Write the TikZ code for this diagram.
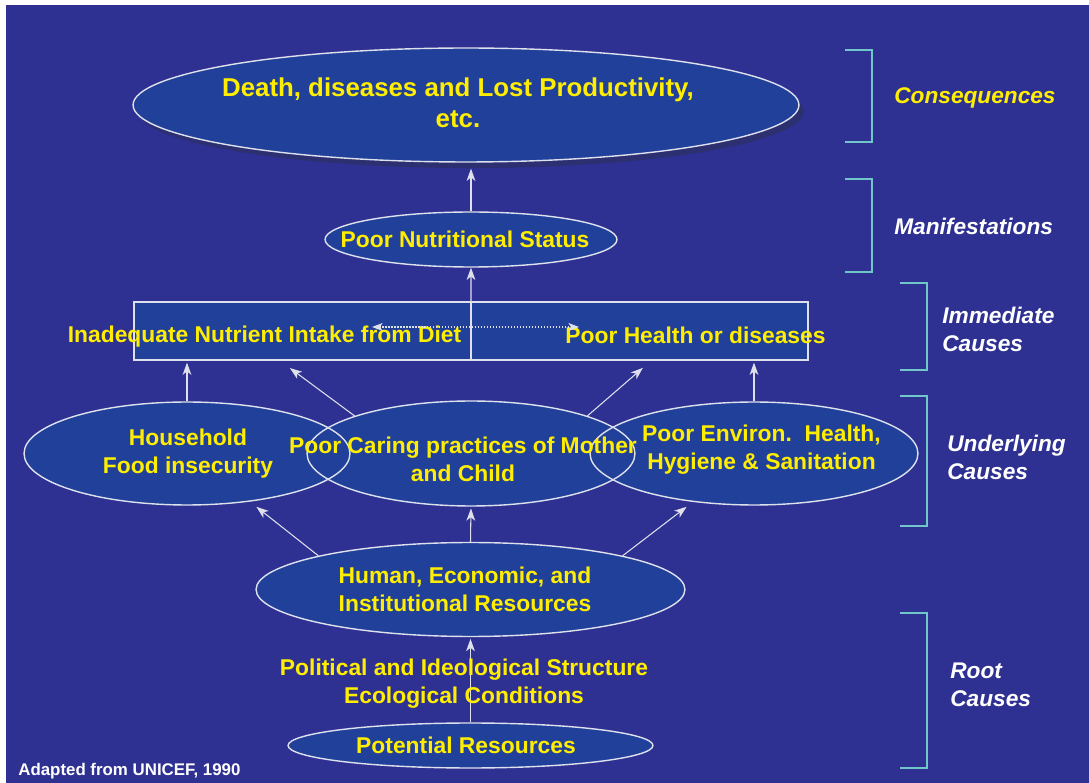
\documentclass[tikz,border=0pt]{standalone}
\usepackage{fontspec}
\setmainfont{Liberation Sans}
\usetikzlibrary{arrows.meta, positioning, shapes.geometric, shadows, calc}

\definecolor{bgblue}{RGB}{46,49,146}
\definecolor{ovalblue}{RGB}{33,64,154}
\definecolor{shadowblue}{RGB}{44,47,112}
\definecolor{edgegray}{RGB}{222,224,236}
\definecolor{txtyellow}{RGB}{255,238,0}
\definecolor{bracketcyan}{RGB}{112,198,200}

\pgfdeclarelayer{fills}
\pgfsetlayers{fills,main}

\begin{document}
\begin{tikzpicture}[
    x=0.02cm, y=-0.02cm,
    oval/.style={ellipse, draw=edgegray, line width=0.8pt, fill=ovalblue},
    overlap/.style={ellipse, draw=edgegray, line width=0.8pt},
    halfbox/.style={rectangle, draw=edgegray, line width=0.8pt, fill=ovalblue, minimum width=6.74cm, minimum height=1.16cm, outer sep=0pt},
    lbl/.style={text=txtyellow, font=\bfseries\fontsize{13}{15.9}\selectfont, align=center, inner sep=0pt},
    stage/.style={font=\bfseries\itshape\fontsize{12.9}{15.9}\selectfont, text=white, align=left, anchor=west, inner sep=0pt},
    arrow/.style={-{Stealth[length=7pt, width=5pt, inset=2pt]}, line width=0.6pt, draw=edgegray},
    dotarrow/.style={{Stealth[length=6pt, width=4.5pt, inset=1.5pt]}-{Stealth[length=6pt, width=4.5pt, inset=1.5pt]}, densely dotted, line width=0.7pt, draw=edgegray},
    bracket/.style={draw=bracketcyan, line width=0.8pt},
]

% Page and background
\useasboundingbox (0,0) rectangle (1089,783);
\begin{pgfonlayer}{fills}
\fill[white] (0,0) rectangle (1089,783);
\fill[bgblue] (6,5) rectangle (1089,783);
\end{pgfonlayer}

% Consequences and manifestations
\node[oval, minimum width=13.32cm, minimum height=2.28cm,
      drop shadow={shadow xshift=0.1cm, shadow yshift=-0.12cm, fill=shadowblue, opacity=1}] (death) at (466,105) {};
\node[oval, minimum width=5.84cm, minimum height=1.10cm] (nutr) at (471,239.5) {};

% Immediate causes
\node[halfbox] (intakebox) at (302.5,331) {};
\node[halfbox, right=0pt of intakebox] (healthbox) {};

% Underlying causes (outlines stay visible where they overlap)
\node[overlap, minimum width=6.52cm, minimum height=2.06cm] (hh)   at (187,453.5) {};
\node[overlap, minimum width=6.56cm, minimum height=2.10cm] (care) at (471,453.5) {};
\node[overlap, minimum width=6.56cm, minimum height=2.06cm] (env)  at (754,453.5) {};
\begin{pgfonlayer}{fills}
\foreach \o in {hh,care,env}
  \fill[ovalblue] let \p1=(\o.center), \p2=(\o.east), \p3=(\o.north) in
    (\p1) ellipse [x radius=\x2-\x1, y radius=\y3-\y1];
\end{pgfonlayer}

% Root causes
\node[oval, minimum width=8.58cm, minimum height=1.88cm] (hum) at (470.5,589.5) {};
\node[oval, minimum width=7.30cm, minimum height=0.90cm] (pot) at (470.5,745.5) {};

% Arrows
\draw[arrow, shorten >=3.4pt] (nutr.north) -- (nutr.north |- death.south);
\draw[arrow] (intakebox.south east) -- (nutr.south);
\draw[arrow, shorten >=1.5pt] (hh.north) -- (hh.north |- intakebox.south);
\draw[arrow, shorten >=7.7pt] (care.north west) -- ([xshift=-0.47cm]intakebox.south);
\draw[arrow, shorten >=6.8pt] (care.north east) -- ([xshift=0.25cm]healthbox.south);
\draw[arrow, shorten >=1.5pt] (env.north) -- (env.north |- healthbox.south);
\draw[arrow, shorten >=1pt] (hum.north west) -- ([xshift=1.36cm]hh.south);
\draw[arrow, shorten >=1pt] (hum.north) -- (care.south);
\draw[arrow, shorten >=1pt] (hum.north east) -- ([xshift=-1.32cm]env.south);
\draw[arrow, shorten >=1pt] (pot.north) -- (hum.south);

% Texts
\node[lbl, font=\bfseries\fontsize{14.7}{17.6}\selectfont] (deathtxt) at (458,102.5) {Death, diseases and Lost Productivity,\\etc.};
\node[lbl] (nutrtxt) at (465,239) {Poor Nutritional Status};
\node[lbl] (intaketxt) at (264.5,336.5) {Inadequate Nutrient Intake from Diet};
\node[lbl] (healthtxt) at (695.5,335) {Poor Health or diseases};
\node[lbl] (hhtxt) at (188,454) {Household\\Food insecurity};
\node[lbl] (caretxt) at (463,459) {Poor Caring practices of Mother\\and Child};
\node[lbl] (envtxt) at (761.5,450) {Poor Environ.\ \ Health,\\Hygiene \& Sanitation};
\node[lbl] (humtxt) at (465,589) {Human, Economic, and\\Institutional Resources};
\node[lbl] (poltxt) at (464,684) {Political and Ideological Structure\\Ecological Conditions};
\node[lbl] (pottxt) at (466,745) {Potential Resources};
\node[anchor=west, inner sep=0pt, text=white, font=\bfseries\fontsize{9.6}{11}\selectfont] (source) at (18,771) {Adapted from UNICEF, 1990};

% Dotted link between the two immediate causes
\coordinate (dietend) at (372,327);
\coordinate (healthend) at (579,327);
\draw[dotarrow] (dietend) -- (healthend);

% Brackets and stage labels
\draw[bracket] (845,50) -- (872,50) -- (872,142) -- (845,142);
\draw[bracket] (845,179) -- (872,179) -- (872,272) -- (845,272);
\draw[bracket] (900,283) -- (927,283) -- (927,370) -- (900,370);
\draw[bracket] (900,396) -- (927,396) -- (927,526) -- (900,526);
\draw[bracket] (900,613) -- (927,613) -- (927,768) -- (900,768);

\node[stage, text=txtyellow] (conseq) at (894,98) {Consequences};
\node[stage] (manif) at (894,226) {Manifestations};
\node[stage] (immed) at (942,329) {Immediate\\Causes};
\node[stage] (under) at (947,457) {Underlying\\Causes};
\node[stage] (root) at (950,684.5) {Root\\Causes};

\end{tikzpicture}
\end{document}
